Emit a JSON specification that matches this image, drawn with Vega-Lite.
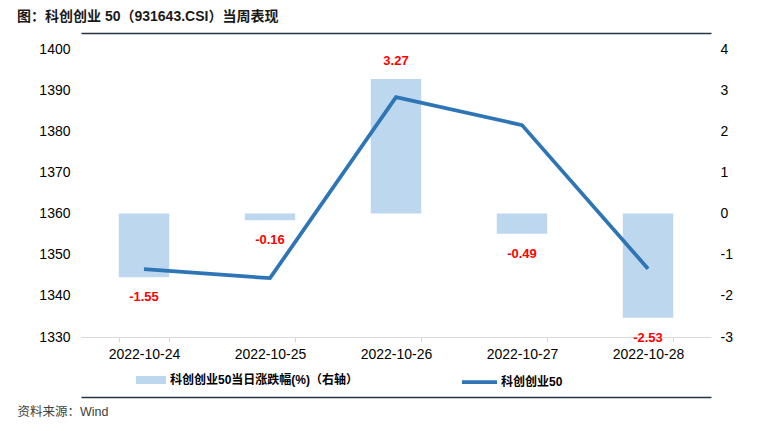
{
  "$schema": "https://vega.github.io/schema/vega-lite/v6.json",
  "width": 630,
  "height": 288,
  "autosize": {"type": "none"},
  "padding": {"left": 81, "top": 49, "right": 63, "bottom": 94},
  "background": "white",
  "title": {
    "text": "图：科创创业 50（931643.CSI）当周表现",
    "anchor": "start",
    "frame": "group",
    "dx": -64,
    "offset": 9,
    "fontSize": 14,
    "fontWeight": "bold",
    "color": "#1a1a1a",
    "font": "Liberation Sans, Noto Sans CJK SC"
  },
  "config": {
    "view": {"stroke": null},
    "font": "Liberation Sans, Noto Sans CJK SC",
    "locale": {"number": {"decimal": ".", "thousands": ",", "grouping": [3], "currency": ["$", ""], "minus": "-"}},
    "axis": {"grid": false, "labelFont": "Liberation Sans, Noto Sans CJK SC", "labelFontSize": 14, "labelColor": "#000000"},
    "legend": {"labelFont": "Liberation Sans, Noto Sans CJK SC", "labelFontSize": 12, "labelFontWeight": "bold", "labelColor": "#000000", "padding": 0, "labelLimit": 0}
  },
  "data": {
    "values": [
      {"date": "2022-10-24", "idx": 1346.5, "pct": -1.55},
      {"date": "2022-10-25", "idx": 1344.3, "pct": -0.16},
      {"date": "2022-10-26", "idx": 1388.3, "pct": 3.27},
      {"date": "2022-10-27", "idx": 1381.5, "pct": -0.49},
      {"date": "2022-10-28", "idx": 1346.6, "pct": -2.53}
    ]
  },
  "layer": [
    {
      "encoding": {
        "x": {
          "field": "date",
          "type": "ordinal",
          "scale": {"paddingInner": 0.6, "paddingOuter": 0.3},
          "axis": {
            "orient": "bottom",
            "labelAngle": 0,
            "labelPadding": 5,
            "domainColor": "#d9d9d9",
            "tickColor": "#d9d9d9",
            "tickSize": 5,
            "tickBand": "extent",
            "title": "资料来源：Wind",
            "titleFont": "Liberation Sans, Noto Sans CJK SC",
            "titleFontSize": 12.5,
            "titleFontWeight": "normal",
            "titleColor": "#404040",
            "titleX": -64,
            "titleY": 74,
            "titleAlign": "left",
            "titleBaseline": "middle"
          }
        },
        "y": {
          "field": "pct",
          "type": "quantitative",
          "scale": {"domain": [-3, 4], "nice": false, "zero": false},
          "axis": {"orient": "right", "title": null, "domain": false, "ticks": false, "labelPadding": 9, "tickCount": 7}
        }
      },
      "layer": [
        {
          "mark": {"type": "bar"},
          "encoding": {
            "fill": {
              "datum": "科创创业50当日涨跌幅(%)（右轴）",
              "scale": {"range": ["#bdd7ee"]},
              "legend": {
                "title": null,
                "orient": "none",
                "legendX": 55,
                "legendY": 316,
                "symbolType": "M-1,-0.267L1,-0.267L1,0.267L-1,0.267Z",
                "symbolSize": 900,
                "symbolStrokeWidth": 0,
                "labelOffset": 4
              }
            }
          }
        },
        {
          "transform": [{"filter": "datum.pct >= 0"}],
          "mark": {"type": "text", "color": "#ff0000", "fontWeight": "bold", "fontSize": 13, "dy": -18, "baseline": "middle", "font": "Liberation Sans"},
          "encoding": {"text": {"field": "pct", "type": "quantitative", "format": ".2f"}}
        },
        {
          "transform": [{"filter": "datum.pct < 0"}],
          "mark": {"type": "text", "color": "#ff0000", "fontWeight": "bold", "fontSize": 13, "dy": 20, "baseline": "middle", "font": "Liberation Sans"},
          "encoding": {"text": {"field": "pct", "type": "quantitative", "format": ".2f"}}
        }
      ]
    },
    {
      "mark": {"type": "line", "strokeWidth": 3.75},
      "encoding": {
        "x": {
          "field": "date",
          "type": "ordinal",
          "axis": {"orient": "top", "offset": 16, "domainColor": "#263445", "domainWidth": 1.5, "labels": false, "ticks": false, "title": null}
        },
        "y": {
          "field": "idx",
          "type": "quantitative",
          "scale": {"domain": [1330, 1400], "nice": false, "zero": false},
          "axis": {"orient": "left", "title": null, "domain": false, "ticks": false, "labelPadding": 11, "tickCount": 7, "format": "d"}
        },
        "stroke": {
          "datum": "科创创业50",
          "scale": {"range": ["#2e75b6"]},
          "legend": {
            "title": null,
            "orient": "none",
            "legendX": 379,
            "legendY": 313.5,
            "symbolType": "stroke",
            "symbolSize": 1225,
            "symbolStrokeWidth": 3.75,
            "labelOffset": 2
          }
        }
      }
    },
    {
      "mark": {"type": "line", "opacity": 0},
      "encoding": {
        "x": {
          "field": "date",
          "type": "ordinal",
          "axis": {"orient": "bottom", "offset": 60, "domainColor": "#263445", "domainWidth": 1.5, "labels": false, "ticks": false, "title": null}
        },
        "y": {"field": "idx", "type": "quantitative", "scale": {"domain": [1330, 1400], "nice": false, "zero": false}, "axis": null}
      }
    }
  ],
  "resolve": {"scale": {"y": "independent"}, "axis": {"x": "independent"}}
}
